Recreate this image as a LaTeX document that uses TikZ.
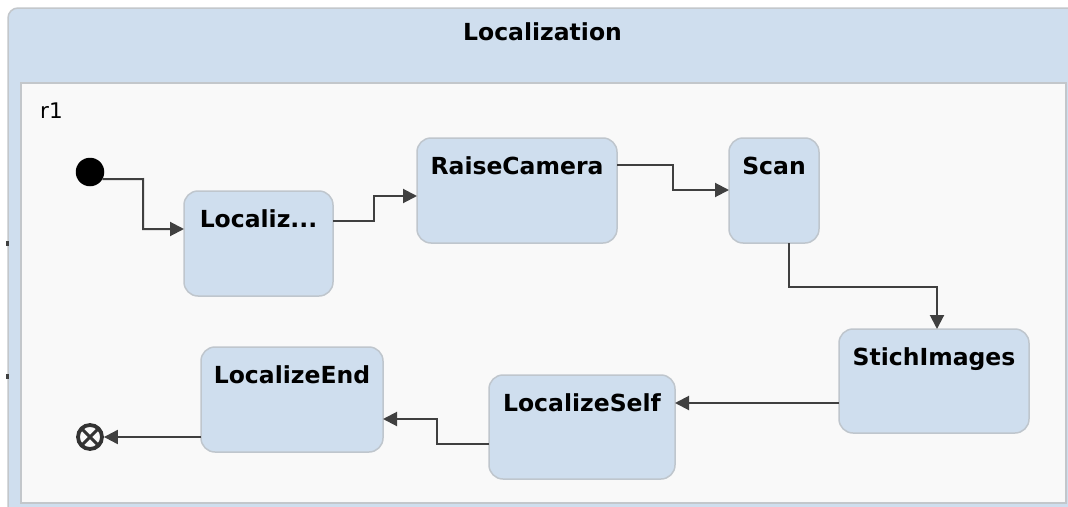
\documentclass[tikz,border=0pt]{standalone}
\usepackage{fontspec}
\setmainfont{DejaVu Sans}
\usetikzlibrary{arrows.meta}
\definecolor{hdr}{HTML}{CFDEEE}
\definecolor{region}{HTML}{F9F9F9}
\definecolor{frameline}{HTML}{C3C7CB}
\definecolor{stfill}{HTML}{CFDEEE}
\definecolor{stline}{HTML}{BFC6CD}
\definecolor{wire}{HTML}{404040}
\definecolor{finc}{HTML}{333333}
\tikzset{
  stbox/.style={draw=stline, fill=stfill, line width=1.5pt, rounded corners=14pt, inner sep=0pt, outer sep=0pt},
  stlabel/.style={anchor=base, inner sep=0pt, font=\fontsize{23.5}{24}\selectfont\bfseries},
  tr/.style={draw=wire, line width=2pt, -{Triangle[length=14pt,width=14pt]}},
}
\begin{document}
\begin{tikzpicture}[x=1pt,y=-1pt]
\useasboundingbox (0,0) rectangle (1068,506);
\fill[white] (0,0) rectangle (1068,506);
% outer container
\draw[fill=hdr, draw=frameline, line width=1.5pt, rounded corners=10pt] (8,8) rectangle (1090,530);
\draw[fill=region, draw=frameline, line width=1.5pt] (21,83) rectangle (1066,503);
\fill[wire] (5.5,241) rectangle (9,245.5);
\fill[wire] (5.5,374) rectangle (9,378.5);
\node[stlabel] (title) at (542.5,40.5) {Localization};
\node[anchor=base west, inner sep=0pt, font=\fontsize{21.5}{22}\selectfont] (r1) at (40,118) {r1};
% pseudo states
\node[circle, fill=black, minimum size=28.5pt, inner sep=0pt, outer sep=0pt] (init) at (90,172) {};
\node[circle, draw=finc, line width=3.8pt, minimum size=24pt, inner sep=0pt,
  path picture={\draw[finc, line width=3pt] (path picture bounding box.north west) -- (path picture bounding box.south east)
  (path picture bounding box.north east) -- (path picture bounding box.south west);}] (fin) at (90,437) {};
% states
\node[stbox, minimum width=149pt, minimum height=105pt] (s1) at (258.5,243.5) {};
\node[stbox, minimum width=200pt, minimum height=105pt] (s2) at (517,190.5) {};
\node[stbox, minimum width=90pt, minimum height=105pt] (s3) at (774,190.5) {};
\node[stbox, minimum width=190pt, minimum height=104pt] (s4) at (934,381) {};
\node[stbox, minimum width=186pt, minimum height=104pt] (s5) at (582,427) {};
\node[stbox, minimum width=182pt, minimum height=105pt] (s6) at (292,399.5) {};
\node[stlabel] (l1) at ([yshift=-36pt]s1.north) {Localiz...};
\node[stlabel] (l2) at ([yshift=-36pt]s2.north) {RaiseCamera};
\node[stlabel] (l3) at ([yshift=-36pt]s3.north) {Scan};
\node[stlabel] (l4) at ([yshift=-36pt]s4.north) {StichImages};
\node[stlabel] (l5) at ([yshift=-36pt]s5.north) {LocalizeSelf};
\node[stlabel] (l6) at ([yshift=-36pt]s6.north) {LocalizeEnd};
% transitions
\draw[tr] (init.-30) -- (143,179) |- (s1.west |- 0,229);
\draw[tr] (s1.east |- 0,221) -- (374,221) |- (s2.west |- 0,196);
\draw[tr] (s2.east |- 0,165) -- (673,165) |- (s3.west |- 0,190);
\draw[tr] (s3.south -| 789,0) -- (789,287) -| (s4.north -| 937,0);
\draw[tr] (s4.west |- 0,403) -- (s5.east |- 0,403);
\draw[tr] (s5.west |- 0,444) -- (437,444) |- (s6.east |- 0,419);
\draw[tr] (s6.west |- 0,437) -- (fin);
\end{tikzpicture}
\end{document}
